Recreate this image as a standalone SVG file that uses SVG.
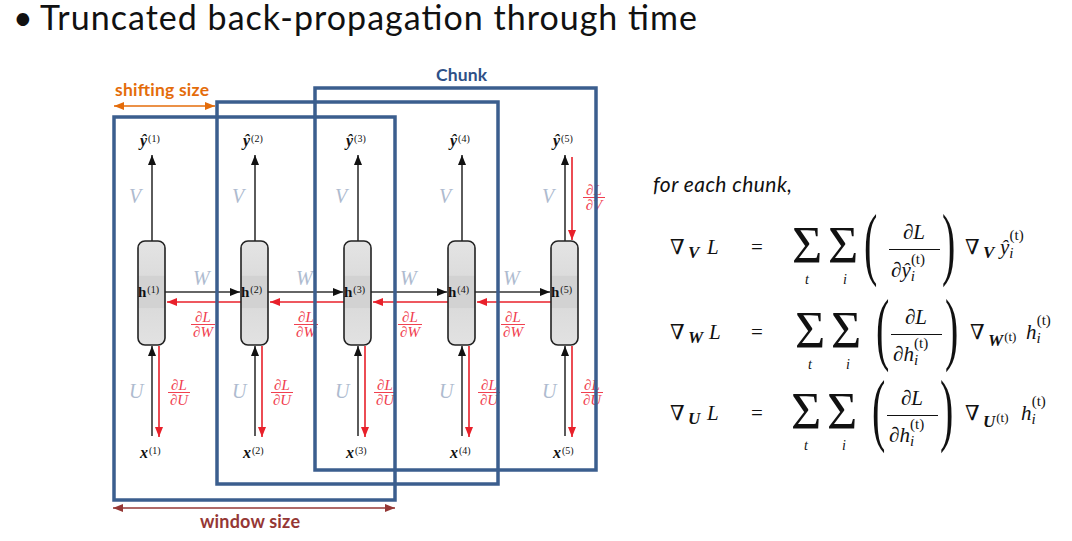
<svg xmlns="http://www.w3.org/2000/svg" width="1072" height="541" viewBox="0 0 1072 541">
<defs>
<style>
.blue{fill:none;stroke:#3B5E8E;stroke-width:3.5}
.node{fill:url(#ng);stroke:#222;stroke-width:1.6}
.bk{stroke:#333;stroke-width:1.6;fill:none;marker-end:url(#ab)}
.rd{stroke:#E8202A;stroke-width:1.6;fill:none;marker-end:url(#ar)}
.wv{font-family:"Liberation Serif",serif;font-style:italic;font-size:20px;fill:#AEBBCF}
.rf{font-family:"Liberation Serif",serif;font-style:italic;font-size:15px;fill:#F0404F;text-anchor:middle}
.rbar{stroke:#F0404F;stroke-width:1}
.lb{font-family:"Liberation Serif",serif;font-weight:bold;font-style:italic;font-size:16px;fill:#111}
.hb{font-family:"Liberation Serif",serif;font-weight:bold;font-size:15px;fill:#111}
.sup{font-size:10px;font-style:normal;font-weight:normal}
.cal{font-family:Lato,"Open Sans",sans-serif}
.m{font-family:"Liberation Serif","DejaVu Serif",serif;font-size:21px;fill:#111}
.mi{font-style:italic}
.mb{font-family:"Liberation Serif","DejaVu Serif",serif;font-weight:bold;font-style:italic;font-size:17px;fill:#111}
.sig{font-family:"Liberation Serif","DejaVu Serif",serif;font-size:52px;fill:#111}
.sm{font-family:"Liberation Serif","DejaVu Serif",serif;font-style:italic;font-size:14px;fill:#111;text-anchor:middle}
.par{font-family:"Liberation Serif","DejaVu Serif",serif;font-size:80px;fill:#111}
.s13{font-size:15px}
.st{font-size:13px;font-style:normal;font-weight:normal}
</style>
<linearGradient id="ng" x1="0" y1="0" x2="0" y2="1">
<stop offset="0" stop-color="#e4e4e4"/>
<stop offset="0.33" stop-color="#dcdcdc"/>
<stop offset="0.34" stop-color="#d2d2d2"/>
<stop offset="0.64" stop-color="#d2d2d2"/>
<stop offset="0.65" stop-color="#dbdbdb"/>
<stop offset="1" stop-color="#e2e2e2"/>
</linearGradient>
<marker id="ab" markerUnits="userSpaceOnUse" markerWidth="10" markerHeight="8" refX="10" refY="4" orient="auto"><path d="M0,0 L10,4 L0,8 z" fill="#111"/></marker>
<marker id="ar" markerUnits="userSpaceOnUse" markerWidth="10" markerHeight="8" refX="10" refY="4" orient="auto"><path d="M0,0 L10,4 L0,8 z" fill="#E8202A"/></marker>
<marker id="ao" markerUnits="userSpaceOnUse" markerWidth="10" markerHeight="8" refX="10" refY="4" orient="auto-start-reverse"><path d="M0,0 L10,4 L0,8 z" fill="#E46C0A"/></marker>
<marker id="aw" markerUnits="userSpaceOnUse" markerWidth="10" markerHeight="8" refX="10" refY="4" orient="auto-start-reverse"><path d="M0,0 L10,4 L0,8 z" fill="#953735"/></marker>
</defs>
<rect width="1072" height="541" fill="#fff"/>

<g id="title" class="cal" font-size="34" fill="#111">
<text x="13" y="30">•</text>
<text x="40" y="30" textLength="657" lengthAdjust="spacing">Truncated back-propagation through time</text>
</g>

<g id="connectors">
<line class="bk" x1="152" y1="241" x2="152" y2="155"/>
<line class="bk" x1="255" y1="241" x2="255" y2="155"/>
<line class="bk" x1="358" y1="241" x2="358" y2="155"/>
<line class="bk" x1="462" y1="241" x2="462" y2="155"/>
<line class="bk" x1="565" y1="241" x2="565" y2="155"/>
<line class="rd" x1="572" y1="157" x2="572" y2="240"/>
<line class="bk" x1="152" y1="436" x2="152" y2="346"/>
<line class="bk" x1="255" y1="436" x2="255" y2="346"/>
<line class="bk" x1="358" y1="436" x2="358" y2="346"/>
<line class="bk" x1="462" y1="436" x2="462" y2="346"/>
<line class="bk" x1="565" y1="436" x2="565" y2="346"/>
<line class="rd" x1="159" y1="346" x2="159" y2="437"/>
<line class="rd" x1="262" y1="346" x2="262" y2="437"/>
<line class="rd" x1="365" y1="346" x2="365" y2="437"/>
<line class="rd" x1="469" y1="346" x2="469" y2="437"/>
<line class="rd" x1="572" y1="346" x2="572" y2="437"/>
<line class="bk" x1="165" y1="292" x2="240" y2="292"/>
<line class="bk" x1="268" y1="292" x2="343" y2="292"/>
<line class="bk" x1="371" y1="292" x2="447" y2="292"/>
<line class="bk" x1="475" y1="292" x2="550" y2="292"/>
<line class="rd" x1="241" y1="302" x2="167" y2="302"/>
<line class="rd" x1="344" y1="302" x2="270" y2="302"/>
<line class="rd" x1="448" y1="302" x2="373" y2="302"/>
<line class="rd" x1="551" y1="302" x2="477" y2="302"/>
</g>

<g id="labels">
<text class="wv" x="129" y="203">V</text>
<text class="wv" x="232" y="203">V</text>
<text class="wv" x="335" y="203">V</text>
<text class="wv" x="439" y="203">V</text>
<text class="wv" x="542" y="203">V</text>
<text class="wv" x="129" y="398">U</text>
<text class="wv" x="232" y="398">U</text>
<text class="wv" x="335" y="398">U</text>
<text class="wv" x="439" y="398">U</text>
<text class="wv" x="542" y="398">U</text>
<text class="wv" x="193" y="285">W</text>
<text class="wv" x="296" y="285">W</text>
<text class="wv" x="400" y="285">W</text>
<text class="wv" x="503" y="285">W</text>
<text class="rf" x="203" y="322">∂L</text><line class="rbar" x1="191" y1="324.5" x2="215" y2="324.5"/><text class="rf" x="203" y="337">∂W</text>
<text class="rf" x="306" y="322">∂L</text><line class="rbar" x1="294" y1="324.5" x2="318" y2="324.5"/><text class="rf" x="306" y="337">∂W</text>
<text class="rf" x="410" y="322">∂L</text><line class="rbar" x1="398" y1="324.5" x2="422" y2="324.5"/><text class="rf" x="410" y="337">∂W</text>
<text class="rf" x="513" y="322">∂L</text><line class="rbar" x1="501" y1="324.5" x2="525" y2="324.5"/><text class="rf" x="513" y="337">∂W</text>
<text class="rf" x="179" y="390">∂L</text><line class="rbar" x1="168" y1="392.5" x2="190" y2="392.5"/><text class="rf" x="179" y="405">∂U</text>
<text class="rf" x="282" y="390">∂L</text><line class="rbar" x1="271" y1="392.5" x2="293" y2="392.5"/><text class="rf" x="282" y="405">∂U</text>
<text class="rf" x="385" y="390">∂L</text><line class="rbar" x1="374" y1="392.5" x2="396" y2="392.5"/><text class="rf" x="385" y="405">∂U</text>
<text class="rf" x="489" y="390">∂L</text><line class="rbar" x1="478" y1="392.5" x2="500" y2="392.5"/><text class="rf" x="489" y="405">∂U</text>
<text class="rf" x="592" y="390">∂L</text><line class="rbar" x1="581" y1="392.5" x2="603" y2="392.5"/><text class="rf" x="592" y="405">∂U</text>
<text class="rf" x="594" y="195">∂L</text><line class="rbar" x1="583" y1="197.5" x2="605" y2="197.5"/><text class="rf" x="594" y="210">∂V</text>
</g>

<g id="node1">
<text class="lb" x="140" y="146">ŷ<tspan class="sup" dx="1" dy="-4">(1)</tspan></text>
<rect class="node" x="138" y="241" width="27" height="104" rx="7"/>
<text class="hb" x="138" y="297">h<tspan class="sup" dx="1" dy="-4">(1)</tspan></text>
<text class="lb" x="140" y="458">x<tspan class="sup" dx="1" dy="-4">(1)</tspan></text>
</g>
<g id="node2">
<text class="lb" x="243" y="146">ŷ<tspan class="sup" dx="1" dy="-4">(2)</tspan></text>
<rect class="node" x="241" y="241" width="27" height="104" rx="7"/>
<text class="hb" x="241" y="297">h<tspan class="sup" dx="1" dy="-4">(2)</tspan></text>
<text class="lb" x="243" y="458">x<tspan class="sup" dx="1" dy="-4">(2)</tspan></text>
</g>
<g id="node3">
<text class="lb" x="346" y="146">ŷ<tspan class="sup" dx="1" dy="-4">(3)</tspan></text>
<rect class="node" x="344" y="241" width="27" height="104" rx="7"/>
<text class="hb" x="344" y="297">h<tspan class="sup" dx="1" dy="-4">(3)</tspan></text>
<text class="lb" x="346" y="458">x<tspan class="sup" dx="1" dy="-4">(3)</tspan></text>
</g>
<g id="node4">
<text class="lb" x="450" y="146">ŷ<tspan class="sup" dx="1" dy="-4">(4)</tspan></text>
<rect class="node" x="448" y="241" width="27" height="104" rx="7"/>
<text class="hb" x="448" y="297">h<tspan class="sup" dx="1" dy="-4">(4)</tspan></text>
<text class="lb" x="450" y="458">x<tspan class="sup" dx="1" dy="-4">(4)</tspan></text>
</g>
<g id="node5">
<text class="lb" x="553" y="146">ŷ<tspan class="sup" dx="1" dy="-4">(5)</tspan></text>
<rect class="node" x="551" y="241" width="27" height="104" rx="7"/>
<text class="hb" x="551" y="297">h<tspan class="sup" dx="1" dy="-4">(5)</tspan></text>
<text class="lb" x="553" y="458">x<tspan class="sup" dx="1" dy="-4">(5)</tspan></text>
</g>

<g id="windows">
<rect class="blue" x="114" y="117" width="281" height="383"/>
<rect class="blue" x="217" y="102" width="281" height="382"/>
<rect class="blue" x="315" y="88" width="281" height="382"/>
<text class="cal" x="436" y="81" font-size="17.5" font-weight="bold" fill="#2E5087" textLength="51" lengthAdjust="spacing">Chunk</text>
<line x1="114" y1="106" x2="215" y2="106" stroke="#E46C0A" stroke-width="1.6" marker-start="url(#ao)" marker-end="url(#ao)"/>
<text class="cal" x="115" y="96" font-size="17.5" font-weight="bold" fill="#E46C0A" textLength="94" lengthAdjust="spacing">shifting size</text>
<line x1="113" y1="508" x2="395" y2="508" stroke="#953735" stroke-width="1.6" marker-start="url(#aw)" marker-end="url(#aw)"/>
<text class="cal" x="200" y="528" font-size="18" font-weight="bold" fill="#953735" textLength="100" lengthAdjust="spacing">window size</text>
</g>

<g id="equations">
<text class="cal" x="653" y="192" font-size="21" font-style="italic" fill="#111" textLength="139" lengthAdjust="spacing">for each chunk,</text>
<!-- line 1 -->
<text class="m" x="670" y="254">∇</text><text class="mb" x="688" y="258">V</text><text class="m mi" x="707" y="254">L</text>
<text class="m" x="751" y="254">=</text>
<text class="sig" x="792" y="263">Σ</text><text class="sm" x="807" y="284">t</text>
<text class="sig" x="828" y="263">Σ</text><text class="sm" x="845" y="284">i</text>
<text class="par" transform="translate(864,270) scale(0.5,1)">(</text>
<text class="m mi" x="914" y="239" text-anchor="middle">∂L</text>
<line x1="889" y1="249.5" x2="940" y2="249.5" stroke="#111" stroke-width="1.2"/>
<text class="m mi" x="891" y="277">∂ŷ<tspan class="s13" dy="4">i</tspan><tspan class="s13" dx="-4" dy="-17" font-style="normal">(t)</tspan></text>
<text class="par" transform="translate(942,270) scale(0.5,1)">)</text>
<text class="m" x="965" y="254">∇</text><text class="mb" x="983" y="258">V</text>
<text class="m mi" x="1000" y="254">ŷ<tspan class="s13" dy="4">i</tspan><tspan class="s13" dx="-4" dy="-18" font-style="normal">(t)</tspan></text>
<!-- line 2 -->
<text class="m" x="670" y="339">∇</text><text class="mb" x="688" y="343">W</text><text class="m mi" x="709" y="339">L</text>
<text class="m" x="751" y="339">=</text>
<text class="sig" x="795" y="348">Σ</text><text class="sm" x="810" y="369">t</text>
<text class="sig" x="831" y="348">Σ</text><text class="sm" x="848" y="369">i</text>
<text class="par" transform="translate(876,355) scale(0.5,1)">(</text>
<text class="m mi" x="916" y="324" text-anchor="middle">∂L</text>
<line x1="891" y1="334.5" x2="942" y2="334.5" stroke="#111" stroke-width="1.2"/>
<text class="m mi" x="893" y="361">∂h<tspan class="s13" dy="4">i</tspan><tspan class="s13" dx="-4" dy="-17" font-style="normal">(t)</tspan></text>
<text class="par" transform="translate(945,355) scale(0.5,1)">)</text>
<text class="m" x="970" y="339">∇</text><text class="mb" x="988" y="346">W<tspan class="st" dx="1" dy="-5">(t)</tspan></text>
<text class="m mi" x="1026" y="339">h<tspan class="s13" dy="4">i</tspan><tspan class="s13" dx="-4" dy="-18" font-style="normal">(t)</tspan></text>
<!-- line 3 -->
<text class="m" x="670" y="420">∇</text><text class="mb" x="688" y="424">U</text><text class="m mi" x="707" y="420">L</text>
<text class="m" x="751" y="420">=</text>
<text class="sig" x="791" y="429">Σ</text><text class="sm" x="806" y="450">t</text>
<text class="sig" x="827" y="429">Σ</text><text class="sm" x="844" y="450">i</text>
<text class="par" transform="translate(872,436) scale(0.5,1)">(</text>
<text class="m mi" x="912" y="405" text-anchor="middle">∂L</text>
<line x1="887" y1="415.5" x2="938" y2="415.5" stroke="#111" stroke-width="1.2"/>
<text class="m mi" x="889" y="442">∂h<tspan class="s13" dy="4">i</tspan><tspan class="s13" dx="-4" dy="-17" font-style="normal">(t)</tspan></text>
<text class="par" transform="translate(940,436) scale(0.5,1)">)</text>
<text class="m" x="965" y="420">∇</text><text class="mb" x="983" y="427">U<tspan class="st" dx="1" dy="-5">(t)</tspan></text>
<text class="m mi" x="1021" y="420">h<tspan class="s13" dy="4">i</tspan><tspan class="s13" dx="-4" dy="-18" font-style="normal">(t)</tspan></text>
</g>
</svg>
